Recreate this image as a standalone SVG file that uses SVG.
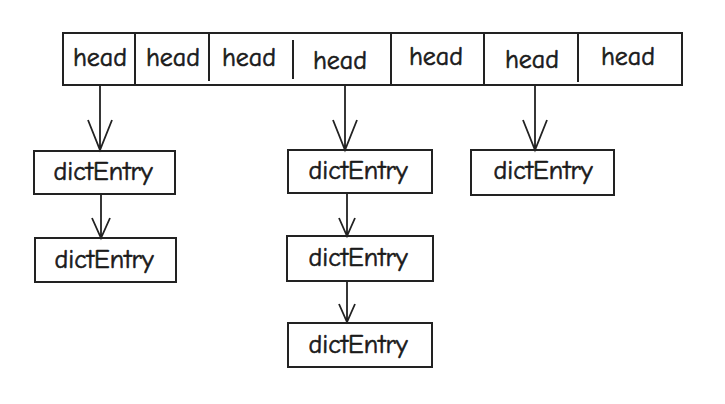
<svg xmlns="http://www.w3.org/2000/svg" width="725" height="404" viewBox="0 0 725 404">
<style>
.box{fill:#fff;stroke:#222;stroke-width:2}
.div{stroke:#222;stroke-width:2}
.t{font-family:"Comic Neue","Liberation Sans",sans-serif;font-size:26px;fill:#1a1a1a;stroke:#1a1a1a;stroke-width:0.6;text-anchor:middle}
.c{stroke:#222;stroke-width:1.8;fill:none}
</style>
<rect width="725" height="404" fill="#fff"/>
<g id="heads">
<rect class="box" x="63" y="33" width="619" height="52"/>
<line class="div" x1="135" y1="33" x2="135" y2="85"/>
<line class="div" x1="209" y1="33" x2="209" y2="81"/>
<line class="div" x1="293" y1="40" x2="293" y2="79"/>
<line class="div" x1="391" y1="33" x2="391" y2="85"/>
<line class="div" x1="484" y1="33" x2="484" y2="85"/>
<line class="div" x1="578" y1="33" x2="578" y2="82"/>
<text class="t" x="100" y="66">head</text>
<text class="t" x="173" y="66">head</text>
<text class="t" x="249" y="66">head</text>
<text class="t" x="340" y="69">head</text>
<text class="t" x="436" y="65">head</text>
<text class="t" x="532" y="68">head</text>
<text class="t" x="628" y="65">head</text>
</g>
<g id="e1"><rect class="box" x="34" y="151" width="141" height="43"/><text class="t" x="103" y="180">dictEntry</text></g>
<g id="e2"><rect class="box" x="35" y="238" width="141" height="44"/><text class="t" x="104" y="268">dictEntry</text></g>
<g id="e3"><rect class="box" x="288" y="150" width="144" height="43"/><text class="t" x="358" y="179">dictEntry</text></g>
<g id="e4"><rect class="box" x="287" y="236" width="146" height="45"/><text class="t" x="358" y="266">dictEntry</text></g>
<g id="e5"><rect class="box" x="288" y="323" width="144" height="44"/><text class="t" x="358" y="353">dictEntry</text></g>
<g id="e6"><rect class="box" x="471" y="150" width="143" height="45"/><text class="t" x="543" y="179">dictEntry</text></g>
<g id="connectors">
<path class="c" d="M100 85V150M88 120L100 150L112 120"/>
<path class="c" d="M101 194V238M92 218L101 238L110 218"/>
<path class="c" d="M345 85V150M333 120L345 150L357 120"/>
<path class="c" d="M347 193V236M339 218L347 236L355 218"/>
<path class="c" d="M347 281V322M339 304L347 322L355 304"/>
<path class="c" d="M535 85V150M523 120L535 150L547 120"/>
</g>
</svg>
